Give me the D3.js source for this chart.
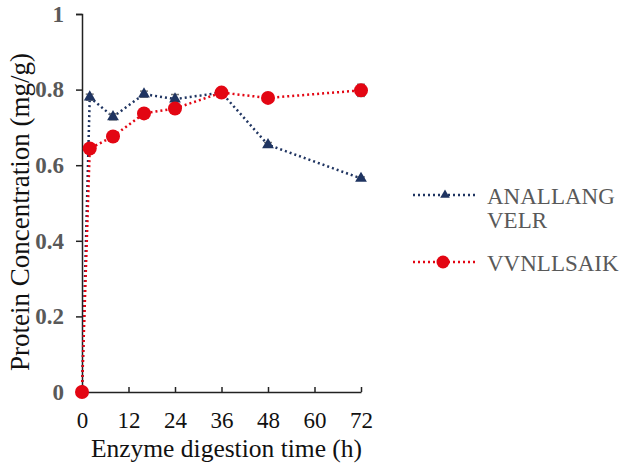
<!DOCTYPE html>
<html>
<head>
<meta charset="utf-8">
<script src="https://cdn.jsdelivr.net/npm/d3@7"></script>
<style>
  body { margin: 0; background: #fff; }
  svg { display: block; }
  svg text { font-family: "Liberation Serif", serif; }
</style>
</head>
<body>
<div id="chart"></div>
<script>
// 数据
const hours = [0, 2, 8, 16, 24, 36, 48, 72];
const seriesNames = ["ANALLANGVELR", "VVNLLSAIK"];
const analValues = [0, 0.780, 0.728, 0.788, 0.775, 0.792, 0.654, 0.565];
const analErrors = [0, 0.008, 0.008, 0.008, 0.012, 0.006, 0.006, 0.004];
const vvnValues = [0, 0.644, 0.676, 0.737, 0.750, 0.792, 0.778, 0.798];
const vvnErrors = [0, 0.006, 0.006, 0.008, 0.006, 0.006, 0.008, 0.016];
const xTicks = [0, 12, 24, 36, 48, 60, 72];
const yTicks = [0, 0.2, 0.4, 0.6, 0.8, 1];

const W = 620, H = 469;
const margin = { top: 14, left: 82, right: 259, bottom: 77 };
const navy = "#1f3461", red = "#e30613", gray = "#595959";

const svg = d3.select("#chart").append("svg").attr("width", W).attr("height", H);

const x = d3.scaleLinear().domain([0, 72]).range([margin.left, W - margin.right]);
const y = d3.scaleLinear().domain([0, 1]).range([H - margin.bottom, margin.top]);

// 坐标轴
const yAxis = svg.append("g").attr("transform", `translate(${margin.left},0)`)
  .call(d3.axisLeft(y).tickValues(yTicks).tickSize(6).tickPadding(12)
    .tickFormat(d => d === 0 || d === 1 ? d3.format("d")(d) : d3.format(".1f")(d)));
yAxis.attr("font-family", null);
yAxis.select(".domain").attr("stroke", "#222").attr("stroke-width", 1.5);
yAxis.selectAll(".tick line").attr("stroke", "#222").attr("stroke-width", 1.5);
yAxis.selectAll(".tick text").attr("font-size", 23)
  .attr("font-weight", "bold").attr("fill", gray);

const xAxis = svg.append("g").attr("transform", `translate(0,${y(0)})`)
  .call(d3.axisBottom(x).tickValues(xTicks).tickSizeInner(-5).tickSizeOuter(0).tickPadding(20));
xAxis.attr("font-family", null);
xAxis.select(".domain").attr("stroke", "#222").attr("stroke-width", 1.5);
xAxis.selectAll(".tick line").attr("stroke", "#222").attr("stroke-width", 1.5);
xAxis.selectAll(".tick text").attr("font-size", 23).attr("fill", "#111");

svg.append("text").attr("x", (x(0) + x(72)) / 2 + 5).attr("y", 457)
  .attr("text-anchor", "middle").attr("font-size", 25.5).attr("fill", "#111")
  .text("Enzyme digestion time (h)");

svg.append("text").attr("transform", `translate(29,212) rotate(-90)`)
  .attr("text-anchor", "middle").attr("font-size", 27).attr("fill", "#111")
  .text("Protein Concentration (mg/g)");

const line = d3.line().x(d => x(d.t)).y(d => y(d.v));
const mk = (vals, errs) => hours.map((t, i) => ({ t, v: vals[i], e: errs[i] }));
const anal = mk(analValues, analErrors);
const vvn = mk(vvnValues, vvnErrors);

function errorBars(data) {
  const g = svg.append("g").attr("stroke", "#777").attr("stroke-width", 1.5);
  data.filter(d => d.e > 0).forEach(d => {
    g.append("line").attr("x1", x(d.t)).attr("x2", x(d.t)).attr("y1", y(d.v - d.e)).attr("y2", y(d.v + d.e));
    g.append("line").attr("x1", x(d.t) - 4).attr("x2", x(d.t) + 4).attr("y1", y(d.v - d.e)).attr("y2", y(d.v - d.e));
    g.append("line").attr("x1", x(d.t) - 4).attr("x2", x(d.t) + 4).attr("y1", y(d.v + d.e)).attr("y2", y(d.v + d.e));
  });
}

// 折线
svg.append("path").datum(anal).attr("d", line).attr("fill", "none")
  .attr("stroke", navy).attr("stroke-width", 2.5).attr("stroke-dasharray", "2,3");
svg.append("path").datum(vvn).attr("d", line).attr("fill", "none")
  .attr("stroke", red).attr("stroke-width", 2.5).attr("stroke-dasharray", "2,3");

errorBars(anal);
errorBars(vvn);

const tri = d3.symbol().type(d3.symbolTriangle).size(60);
svg.append("g").selectAll("path").data(anal).enter().append("path")
  .attr("d", tri).attr("transform", d => `translate(${x(d.t)},${y(d.v)})`).attr("fill", navy);

svg.append("g").selectAll("circle").data(vvn).enter().append("circle")
  .attr("cx", d => x(d.t)).attr("cy", d => y(d.v)).attr("r", 7).attr("fill", red);

// 图例
const legend = [
  { name: seriesNames[0], color: navy, y: 195, lines: ["ANALLANG", "VELR"], sym: "tri" },
  { name: seriesNames[1], color: red, y: 262, lines: ["VVNLLSAIK"], sym: "circle" }
];
legend.forEach(l => {
  svg.append("line").attr("x1", 413).attr("x2", 477).attr("y1", l.y).attr("y2", l.y)
    .attr("stroke", l.color).attr("stroke-width", 2.5).attr("stroke-dasharray", "2,3");
  if (l.sym === "tri") {
    svg.append("path").attr("d", d3.symbol().type(d3.symbolTriangle).size(40))
      .attr("transform", `translate(445,${l.y})`).attr("fill", l.color);
  } else {
    svg.append("circle").attr("cx", 443).attr("cy", l.y).attr("r", 6.5).attr("fill", l.color);
  }
  const t = svg.append("text").attr("x", 487).attr("y", l.y + 9)
    .attr("font-size", 23).attr("fill", gray);
  l.lines.forEach((s, i) => t.append("tspan").attr("x", 487).attr("dy", i === 0 ? 0 : 24).text(s));
});
</script>
</body>
</html>
